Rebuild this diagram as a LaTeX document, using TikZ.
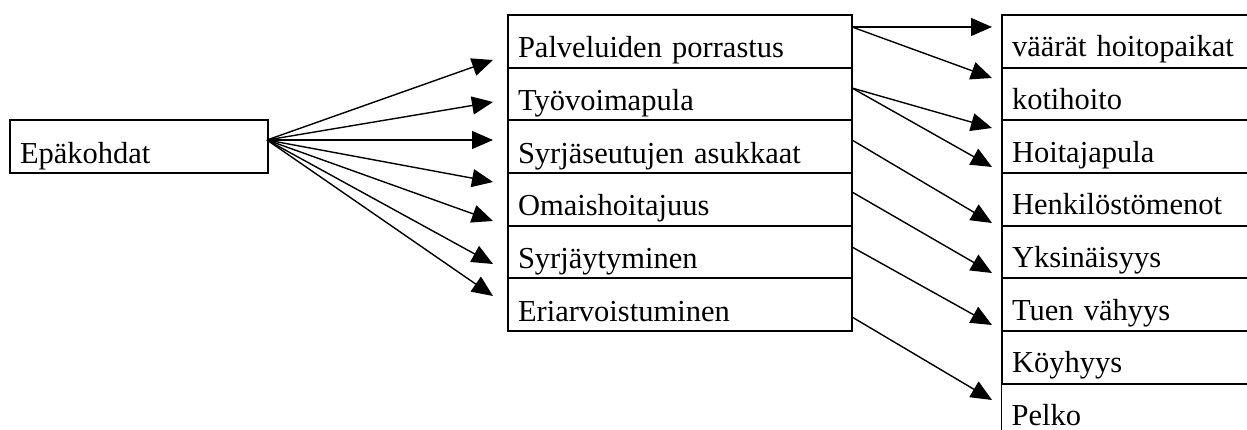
\documentclass[tikz,border=0pt]{standalone}
\usepackage{fontspec}
\setmainfont{Liberation Serif}
\usetikzlibrary{arrows.meta}
\begin{document}
\begin{tikzpicture}[x=1pt,y=-1pt,
  cell/.style={draw, line width=2pt, inner ysep=0pt, inner xsep=10pt,
    text height=42.7pt, text depth=10pt, align=left, anchor=north west,
    font=\fontsize{30.5}{36}\selectfont},
  midcell/.style={cell, text width=324pt},
  rightcell/.style={cell, text width=250pt, text depth=11pt, text height=41.7pt},
  link/.style={line width=1.4pt, -{Triangle[length=21pt,width=18pt]}}]
\useasboundingbox (0,0) rectangle (1247,430);

% left box
\node[cell, text width=238pt, text height=44pt, text depth=9pt] (L) at (9,119) {Epäkohdat};

% middle column
\node[midcell] (m1) at (507,14.0) {Palveluiden porrastus};
\node[midcell] (m2) at (507,66.7) {Työvoimapula};
\node[midcell] (m3) at (507,119.4) {Syrjäseutujen asukkaat};
\node[midcell] (m4) at (507,172.1) {Omaishoitajuus};
\node[midcell] (m5) at (507,224.8) {Syrjäytyminen};
\node[midcell] (m6) at (507,277.5) {Eriarvoistuminen};

% right column
\node[rightcell] (r1) at (1001,14.0) {väärät hoitopaikat};
\node[rightcell] (r2) at (1001,66.7) {kotihoito};
\node[rightcell] (r3) at (1001,119.4) {Hoitajapula};
\node[rightcell] (r4) at (1001,172.1) {Henkilöstömenot};
\node[rightcell] (r5) at (1001,224.8) {Yksinäisyys};
\node[rightcell] (r6) at (1001,277.5) {Tuen vähyys};
\node[rightcell] (r7) at (1001,330.2) {Köyhyys};
\node[rightcell, line width=1.2pt] (r8) at (1001,382.9) {Pelko};

% left fan
\coordinate (o) at (267,140);
\coordinate (t1) at (493,60);
\coordinate (t2) at (493,102);
\coordinate (t3) at (493,140);
\coordinate (t4) at (493,182);
\coordinate (t5) at (493,221);
\coordinate (t6) at (493,264);
\coordinate (t7) at (493,296);
\foreach \i in {1,...,7} \draw[link] (o) -- (t\i);

% right fan
\coordinate (s1) at (852,27);
\coordinate (s2) at (852,88);
\coordinate (s3) at (852,140);
\coordinate (s4) at (852,192);
\coordinate (s5) at (852,247);
\coordinate (s6) at (852,317);
\coordinate (e1) at (992,27);
\coordinate (e2) at (992,78);
\coordinate (e3) at (992,128);
\coordinate (e4) at (992,167);
\coordinate (e5) at (992,223);
\coordinate (e6) at (992,273);
\coordinate (e7) at (992,325);
\coordinate (e8) at (992,400);
\draw[link] (s1) -- (e1);
\draw[link] (s1) -- (e2);
\draw[link] (s2) -- (e3);
\draw[link] (s2) -- (e4);
\draw[link] (s3) -- (e5);
\draw[link] (s4) -- (e6);
\draw[link] (s5) -- (e7);
\draw[link] (s6) -- (e8);
\end{tikzpicture}
\end{document}
